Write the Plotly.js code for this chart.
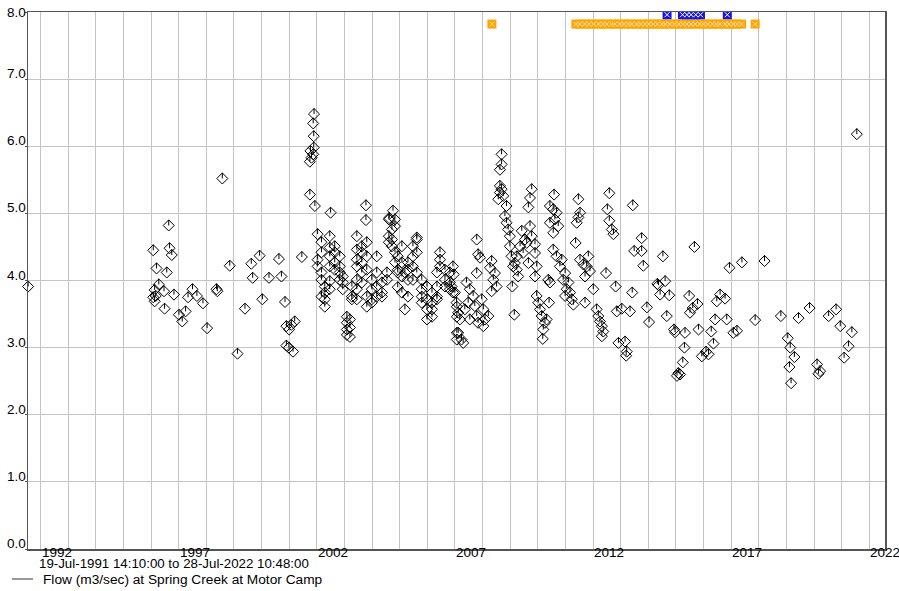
<!DOCTYPE html>
<html>
<head>
<meta charset="utf-8">
<script src="https://cdn.plot.ly/plotly-3.0.1.min.js"></script>
<style>
  html, body { margin: 0; padding: 0; background: #fff; }
  #chart { width: 899px; height: 591px; }
</style>
</head>
<body>
<div id="chart"></div>
<script>
// ---- Data (decimal years, m3/sec) ----
const flowYears = [
  1991.55,
  1996.08, 1996.08, 1996.13, 1996.13, 1996.17, 1996.20, 1996.28, 1996.47, 1996.49, 1996.57,
  1996.64, 1996.67, 1996.75, 1996.83, 1997.01, 1997.13, 1997.25, 1997.34, 1997.50, 1997.66,
  1997.88, 1998.03, 1998.37, 1998.40, 1998.58, 1998.85, 1999.13, 1999.40, 1999.63, 1999.68,
  1999.93, 2000.03, 2000.27, 2000.63, 2000.72, 2000.85, 2000.90, 2000.90, 2000.99, 2001.00,
  2001.08, 2001.14, 2001.20, 2001.46, 2001.75, 2001.75, 2001.77, 2001.81, 2001.87, 2001.87,
  2001.89, 2001.89, 2001.90, 2001.93,
  2002.03, 2002.03, 2002.03,
  2002.17, 2002.17, 2002.17, 2002.17, 2002.17,
  2002.29, 2002.29, 2002.29, 2002.29,
  2002.47, 2002.47, 2002.47, 2002.47, 2002.47, 2002.47,
  2002.50,
  2002.65, 2002.65, 2002.65, 2002.65,
  2002.83, 2002.83, 2002.83, 2002.83,
  2002.94, 2002.94, 2002.94,
  2003.09, 2003.09, 2003.09, 2003.09,
  2003.20, 2003.20, 2003.20,
  2003.27, 2003.27, 2003.27,
  2003.45, 2003.45, 2003.45, 2003.45, 2003.45, 2003.45, 2003.45,
  2003.63, 2003.63, 2003.63, 2003.63, 2003.63,
  2003.78, 2003.78,
  2003.81, 2003.81, 2003.81, 2003.81, 2003.81,
  2003.99, 2003.99, 2003.99, 2003.99,
  2004.17, 2004.17, 2004.17, 2004.17,
  2004.36, 2004.36, 2004.36,
  2004.54, 2004.54,
  2004.61, 2004.61, 2004.61,
  2004.62,
  2004.72, 2004.72, 2004.72,
  2004.76,
  2004.83, 2004.83, 2004.83, 2004.83,
  2004.93, 2004.93, 2004.93, 2004.93,
  2005.08, 2005.08, 2005.08, 2005.08,
  2005.19, 2005.19,
  2005.30, 2005.30, 2005.30, 2005.30,
  2005.48, 2005.48, 2005.48, 2005.48,
  2005.62, 2005.62, 2005.62, 2005.62,
  2005.80, 2005.80, 2005.80, 2005.80,
  2005.99, 2005.99, 2005.99, 2005.99,
  2006.17, 2006.17, 2006.17, 2006.17,
  2006.35, 2006.35, 2006.35, 2006.35,
  2006.46, 2006.46, 2006.46,
  2006.64, 2006.64, 2006.64,
  2006.82, 2006.82, 2006.82,
  2006.88, 2006.93, 2006.93, 2006.96, 2007.00, 2007.06,
  2007.07, 2007.07, 2007.07, 2007.07,
  2007.12, 2007.12, 2007.18, 2007.24, 2007.30, 2007.36, 2007.42, 2007.48, 2007.54, 2007.54,
  2007.66, 2007.72, 2007.79, 2007.79, 2007.79, 2007.84, 2007.84, 2007.91, 2007.97, 2008.03,
  2008.03, 2008.09, 2008.21, 2008.27, 2008.33, 2008.33, 2008.39, 2008.45, 2008.51, 2008.57,
  2008.63, 2008.63, 2008.63, 2008.69, 2008.69, 2008.69, 2008.75, 2008.81, 2008.87, 2008.87,
  2008.93, 2008.99, 2008.99, 2009.05, 2009.08, 2009.11, 2009.15, 2009.17, 2009.24, 2009.24,
  2009.29, 2009.36, 2009.42, 2009.47, 2009.54, 2009.60, 2009.66, 2009.66, 2009.72, 2009.72,
  2009.78, 2009.78, 2009.90, 2009.90, 2009.90, 2009.96, 2009.96, 2010.02, 2010.08, 2010.14,
  2010.18, 2010.20, 2010.26, 2010.32, 2010.38, 2010.41, 2010.44, 2010.44, 2010.44, 2010.56,
  2010.56, 2010.56, 2010.59, 2010.62, 2010.68, 2010.68, 2010.74, 2010.80, 2010.87, 2010.92,
  2010.99, 2010.99, 2011.05, 2011.11, 2011.17, 2011.23, 2011.29, 2011.37, 2011.41, 2011.47,
  2011.47, 2011.53, 2011.53, 2011.65, 2011.71, 2011.71, 2011.77, 2011.83, 2011.89, 2012.01,
  2012.13, 2012.19, 2012.25, 2012.32, 2012.32, 2012.37, 2012.47, 2012.52, 2012.59, 2012.59,
  2012.68, 2012.74, 2012.82, 2012.86, 2012.92, 2013.04, 2013.16, 2013.20, 2013.22, 2013.34,
  2013.42, 2013.44, 2013.49, 2013.76, 2013.76, 2013.82, 2013.95, 2014.03, 2014.33, 2014.37,
  2014.43, 2014.53, 2014.61, 2014.67, 2014.76, 2014.93, 2014.97, 2015.04, 2015.09, 2015.15,
  2015.25, 2015.31, 2015.33, 2015.48, 2015.51, 2015.61, 2015.67, 2015.78, 2015.82, 2015.94,
  2016.09, 2016.18, 2016.28, 2016.36, 2016.42, 2016.48, 2016.60, 2016.78, 2016.84, 2016.94,
  2017.08, 2017.21, 2017.39, 2017.87, 2018.21, 2018.80, 2019.05, 2019.11, 2019.14, 2019.17,
  2019.29, 2019.44, 2019.84, 2020.11, 2020.16, 2020.22, 2020.53, 2020.80, 2020.95, 2021.09,
  2021.25, 2021.37, 2021.55
];
const flowValues = [
  3.91,
  4.45, 3.75, 3.86, 3.69, 3.77, 4.18, 3.94, 3.84, 3.58, 4.12,
  4.82, 4.48, 4.38, 3.79, 3.49, 3.39, 3.54, 3.75, 3.87, 3.77,
  3.66, 3.29, 3.87, 3.84, 5.52, 4.22, 2.91, 3.58, 4.25, 4.04,
  4.37, 3.72, 4.04, 4.32, 4.06, 3.68, 3.32, 3.03, 3.00, 3.27,
  3.34, 2.94, 3.39, 4.35, 5.77, 5.28, 5.93, 5.83, 6.34, 5.88,
  6.15, 5.98, 6.48, 5.11,
  4.69, 4.31, 4.21,
  4.57, 4.42, 4.12, 4.01, 3.76,
  3.91, 3.82, 3.72, 3.61,
  4.66, 4.49, 4.36, 4.21, 3.99, 3.87,
  5.01,
  4.51, 4.42, 4.27, 4.16,
  4.36, 4.21, 4.12, 4.01,
  4.06, 3.97, 3.87,
  3.46, 3.37, 3.27, 3.19,
  3.42, 3.30, 3.16,
  3.91, 3.76, 3.72,
  4.66, 4.46, 4.31, 4.21, 4.01, 3.87, 3.72,
  4.51, 4.42, 4.27, 4.12, 3.97,
  5.12, 4.90,
  4.57, 4.36, 4.16, 3.76, 3.61,
  4.01, 3.87, 3.72, 3.67,
  4.36, 4.12, 3.91, 3.76,
  3.97, 3.82, 3.76,
  4.12, 4.01,
  4.91, 4.66, 4.57,
  4.93,
  4.76, 4.61, 4.51,
  5.04,
  4.91, 4.81, 4.42, 4.27,
  4.36, 4.16, 4.12, 3.90,
  4.51, 4.27, 4.06, 3.82,
  4.12, 3.57,
  4.27, 4.16, 4.01, 3.76,
  4.51, 4.36, 4.21, 4.01,
  4.64, 4.61, 4.42, 4.12,
  4.01, 3.87, 3.76, 3.67,
  3.91, 3.72, 3.57, 3.42,
  3.82, 3.67, 3.57, 3.46,
  4.12, 3.91, 3.76, 3.72,
  4.42, 4.31, 4.21,
  4.16, 4.01, 3.91,
  4.12, 3.97, 3.87,
  3.91, 4.21, 3.82, 4.09, 3.82, 3.67,
  3.61, 3.46, 3.22, 3.12,
  3.52, 3.22, 3.42, 3.12, 3.07, 3.57, 3.97, 3.67, 3.87, 3.42,
  3.77, 3.62, 4.61, 4.11, 3.47, 4.39, 3.37, 4.34, 3.72, 3.57,
  3.32, 3.42, 3.47, 4.19, 4.29, 3.84, 4.01, 4.11, 3.91, 5.21,
  5.65, 5.41, 5.31, 5.88, 5.73, 5.36, 5.26, 4.96, 5.11, 4.86,
  4.76, 4.66, 4.51, 4.36, 3.91, 4.21, 3.49, 4.26, 4.36, 4.16,
  4.06, 4.51, 4.74, 4.41, 4.61, 4.56, 5.09, 4.26, 5.23, 4.81,
  5.36, 4.66, 4.54, 4.41, 4.06, 4.21, 3.77, 3.67, 3.57, 3.47,
  3.13, 3.27, 3.37, 3.42, 4.01, 3.67, 5.11, 4.86, 3.97, 5.06,
  4.71, 4.46, 5.28, 4.91, 5.01, 4.36, 4.81, 4.21, 4.31, 4.01,
  4.11, 3.77, 3.87, 3.97, 3.82, 3.72, 3.64, 4.56, 4.86, 5.21,
  4.94, 5.01, 4.31, 4.24, 4.06, 3.67, 4.21, 4.36, 4.14, 3.87,
  3.57, 3.47, 3.39, 3.32, 3.17, 3.24, 4.11, 5.06, 5.30, 4.89,
  4.76, 4.69, 3.91, 3.54, 3.07, 3.58, 3.09, 2.88, 2.94, 3.54,
  3.82, 5.12, 4.44, 4.63, 4.44, 4.22, 3.60, 3.38, 3.95, 3.93,
  3.79, 4.36, 3.99, 3.47, 3.78, 3.27, 3.23, 2.58, 2.62, 2.60,
  2.78, 3.00, 3.22, 3.77, 3.52, 3.59, 4.50, 3.65, 3.27, 2.87,
  2.94, 2.90, 3.24, 3.06, 3.42, 3.69, 3.79, 3.73, 3.42, 4.19,
  3.22, 3.25, 4.27, 3.41, 4.29, 3.47, 3.14, 2.71, 3.00, 2.47,
  2.86, 3.44, 3.59, 2.75, 2.61, 2.65, 3.47, 3.57, 3.32, 2.85,
  3.02, 3.23, 6.18
];

// flag markers along the top of the chart
const orangeYears = [
  2008.34,
  2011.38, 2011.52, 2011.70, 2011.85, 2012.02, 2012.20, 2012.35, 2012.50, 2012.68, 2012.80,
  2012.97, 2013.12, 2013.28, 2013.40, 2013.58, 2013.72, 2013.88, 2014.02, 2014.18, 2014.33,
  2014.50, 2014.62, 2014.78, 2014.95, 2015.10, 2015.25, 2015.40, 2015.55, 2015.70, 2015.86,
  2016.00, 2016.15, 2016.32, 2016.47, 2016.60, 2016.78, 2016.92, 2017.08, 2017.22, 2017.38,
  2017.87
];
const orangeValues = [
  7.82,
  7.82, 7.82, 7.82, 7.82, 7.82, 7.82, 7.82, 7.82, 7.82, 7.82,
  7.82, 7.82, 7.82, 7.82, 7.82, 7.82, 7.82, 7.82, 7.82, 7.82,
  7.82, 7.82, 7.82, 7.82, 7.82, 7.82, 7.82, 7.82, 7.82, 7.82,
  7.82, 7.82, 7.82, 7.82, 7.82, 7.82, 7.82, 7.82, 7.82, 7.82,
  7.82
];
const blueYears  = [2014.68, 2015.24, 2015.40, 2015.55, 2015.72, 2015.89, 2016.86];
const blueValues = [7.96, 7.96, 7.96, 7.96, 7.96, 7.96, 7.96];

const gridYears   = [1992,1993,1994,1995,1996,1997,1998,1999,2000,2001,2002,2003,2004,2005,2006,
                     2007,2008,2009,2010,2011,2012,2013,2014,2015,2016,2017,2018,2019,2020,2021,2022];
const labelYears  = [1992, 1997, 2002, 2007, 2012, 2017, 2022];
const yTickVals   = [0, 1, 2, 3, 4, 5, 6, 7, 8];
const yTickText   = ["0.0", "1.0", "2.0", "3.0", "4.0", "5.0", "6.0", "7.0", "8.0"];
const periodText  = "19-Jul-1991 14:10:00 to 28-Jul-2022 10:48:00";
const legendText  = "Flow (m3/sec) at Spring Creek at Motor Camp";
const xStart = 1991.546, xEnd = 2022.570;

// ---- layout helpers (pixel -> paper) ----
const W = 899, H = 591, ML = 28, MR = 14, MT = 12, MB = 42;
const PW = W - ML - MR, PH = H - MT - MB;
const px = x => (x - ML) / PW;
const py = y => (H - MB - y) / PH;

const FONT = "'Liberation Sans', Arial, sans-serif";
const FS = 13.5;

const traces = [
  {
    type: 'scatter', mode: 'markers',
    x: flowYears, y: flowValues, cliponaxis: false,
    marker: { symbol: 'diamond-open', size: 8.5, color: '#000', line: { width: 1, color: '#000' } },
    error_y: { type: 'constant', symmetric: false, value: 0.085, valueminus: 0,
               width: 0, thickness: 1, color: '#000' },
    hoverinfo: 'x+y'
  },
  {
    type: 'scatter', mode: 'markers',
    x: orangeYears, y: orangeValues,
    marker: { symbol: 'square', size: 9, color: '#FFA500', line: { width: 0 } },
    hoverinfo: 'x'
  },
  {
    type: 'scatter', mode: 'markers',
    x: orangeYears, y: orangeValues,
    marker: { symbol: 'x-thin-open', size: 5, color: '#FFE0B0', line: { width: 1, color: '#FFE8C8' } },
    hoverinfo: 'skip'
  },
  {
    type: 'scatter', mode: 'markers',
    x: blueYears, y: blueValues,
    marker: { symbol: 'square', size: 9, color: '#1414E6', line: { width: 0 } },
    hoverinfo: 'x'
  },
  {
    type: 'scatter', mode: 'markers',
    x: blueYears, y: blueValues,
    marker: { symbol: 'x-thin-open', size: 5, color: '#FFFFFF', line: { width: 1, color: '#D0D0FF' } },
    hoverinfo: 'skip'
  }
];

const annotations = labelYears.map(yr => ({
  x: yr, xref: 'x', y: 0, yref: 'paper',
  xanchor: 'left', yanchor: 'top', yshift: 6, xshift: -1,
  text: String(yr), showarrow: false,
  font: { family: FONT, size: FS, color: '#000' }
}));
yTickVals.forEach((v, i) => {
  annotations.push({
    x: px(28), xref: 'paper', y: v, yref: 'y',
    xanchor: 'right', yanchor: 'bottom', yshift: (v === 8 ? -10 : -4), xshift: 0,
    text: yTickText[i], showarrow: false,
    font: { family: FONT, size: FS, color: '#000' }
  });
});
annotations.push({
  x: px(37), xref: 'paper', y: py(563), yref: 'paper',
  xanchor: 'left', yanchor: 'middle', text: periodText, showarrow: false,
  font: { family: FONT, size: 13.3, color: '#000' }
});
annotations.push({
  x: px(41), xref: 'paper', y: py(579), yref: 'paper',
  xanchor: 'left', yanchor: 'middle', text: legendText, showarrow: false,
  font: { family: FONT, size: 13.7, color: '#000' }
});

const layout = {
  width: W, height: H,
  margin: { l: ML, r: MR, t: MT, b: MB, pad: 0 },
  paper_bgcolor: '#fff', plot_bgcolor: '#fff',
  showlegend: false,
  font: { family: FONT, size: FS, color: '#000' },
  xaxis: {
    type: 'linear', range: [xStart, xEnd],
    tickmode: 'array', tickvals: gridYears, showticklabels: false,
    showgrid: true, gridcolor: '#c4c4c4', gridwidth: 1,
    zeroline: false, showline: true, mirror: true, linecolor: '#555', linewidth: 1.5,
    ticks: '', fixedrange: true
  },
  yaxis: {
    range: [0, 8], tickmode: 'array', tickvals: yTickVals, showticklabels: false,
    showgrid: true, gridcolor: '#c4c4c4', gridwidth: 1,
    zeroline: false, showline: true, mirror: true, linecolor: '#555', linewidth: 1.5,
    ticks: 'outside', ticklen: 2, tickcolor: '#555', fixedrange: true
  },
  annotations: annotations,
  shapes: [{
    type: 'line', xref: 'paper', yref: 'paper',
    x0: px(12), x1: px(33), y0: py(579), y1: py(579),
    line: { color: '#333', width: 1 }
  }]
};

Plotly.newPlot('chart', traces, layout, { displayModeBar: false, staticPlot: true });
</script>
</body>
</html>
